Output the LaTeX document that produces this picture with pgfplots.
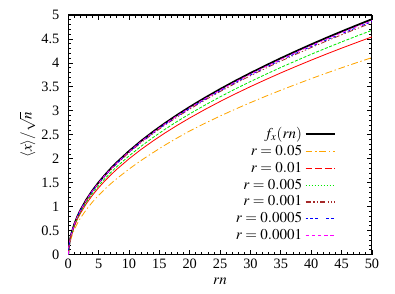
\documentclass[border=0pt]{standalone}
\usepackage{mathptmx}
\usepackage{fontspec}
\setmainfont{Liberation Serif}
\usepackage{pgfplots}
\usepackage{pgfplotstable}
\pgfplotsset{compat=1.18}
\definecolor{gorange}{RGB}{255,165,0}
\definecolor{gred}{RGB}{255,0,0}
\definecolor{ggreen}{RGB}{0,235,0}
\definecolor{gbrown}{RGB}{165,40,40}
\definecolor{gblue}{RGB}{0,0,255}
\definecolor{gmag}{RGB}{255,0,255}
\pgfplotstableread{
x     f      ro     rr     rg     rb     rbl    rm
0     0      0      0      0      0      0      0
0.1   0.157  0.128  0.145  0.150  0.155  0.155  0.156
0.25  0.286  0.233  0.265  0.273  0.282  0.283  0.284
0.5   0.432  0.353  0.400  0.412  0.426  0.428  0.429
1     0.638  0.521  0.590  0.608  0.628  0.632  0.634
1.5   0.796  0.650  0.736  0.759  0.784  0.788  0.791
2     0.930  0.760  0.860  0.886  0.916  0.921  0.924
3     1.153  0.943  1.067  1.099  1.136  1.141  1.146
4     1.342  1.099  1.241  1.279  1.322  1.329  1.334
5     1.508  1.237  1.395  1.437  1.485  1.493  1.499
6     1.658  1.363  1.534  1.580  1.633  1.641  1.648
7     1.797  1.479  1.662  1.713  1.770  1.779  1.786
8     1.925  1.586  1.781  1.835  1.896  1.906  1.913
10    2.160  1.784  1.998  2.058  2.128  2.138  2.147
12    2.373  1.965  2.195  2.261  2.337  2.349  2.359
14    2.568  2.131  2.375  2.447  2.529  2.542  2.553
16    2.750  2.291  2.544  2.621  2.709  2.723  2.734
18    2.921  2.439  2.702  2.784  2.877  2.892  2.903
20    3.082  2.580  2.851  2.937  3.036  3.051  3.064
22.5  3.273  2.740  3.028  3.119  3.224  3.240  3.253
25    3.454  2.891  3.195  3.292  3.402  3.419  3.433
27.5  3.626  3.035  3.354  3.456  3.572  3.590  3.604
30    3.790  3.172  3.506  3.612  3.733  3.752  3.767
32.5  3.947  3.304  3.651  3.761  3.888  3.908  3.923
35    4.099  3.431  3.792  3.906  4.038  4.058  4.074
37.5  4.245  3.553  3.927  4.045  4.181  4.203  4.220
40    4.387  3.672  4.058  4.181  4.321  4.343  4.361
42.5  4.524  3.787  4.185  4.311  4.456  4.479  4.497
45    4.657  3.898  4.308  4.438  4.587  4.610  4.629
47.5  4.786  4.006  4.427  4.561  4.714  4.738  4.757
50    4.912  4.111  4.544  4.681  4.838  4.863  4.883
}\datatable
\begin{document}
\begin{tikzpicture}
\begin{axis}[
  scale only axis,
  width=222.5pt, height=175.5pt,
  xmin=0, xmax=50, ymin=0, ymax=5,
  xtick={0,5,...,50},
  ytick={0,0.5,...,5},
  minor x tick num=4,
  minor y tick num=4,
  tick align=inside,
  major tick length=3.5pt,
  minor tick length=2pt,
  tick style={black, line width=0.6pt},
  axis line style={line width=0.8pt},
  /pgf/number format/assume math mode=true,
  ticklabel style={font=\fontsize{10.5}{12}\selectfont},
  yticklabel style={xshift=-3pt},
  label style={font=\fontsize{11}{13}\selectfont},
  xlabel={$rn$},
  ylabel={$\langle x\rangle/\sqrt{n}$},
  ylabel style={yshift=-2.5pt},
  legend plot pos=right,
  legend cell align=right,
  legend style={draw=none, fill=none, at={(0.895,0.555)}, anchor=north east,
    row sep=-0.6pt, font=\fontsize{11}{13}\selectfont},
  legend image code/.code={\draw[#1] plot coordinates {(0cm,0cm) (0.75cm,0cm)};},
  every axis plot/.append style={line join=round},
]
\addplot[black, line width=1.3pt] table[x=x,y=f] {\datatable};
\addlegendentry{$f_x(rn)$}
\addplot[gorange, line width=0.6pt, dash pattern=on 5pt off 2pt on 1pt off 2pt, legend image post style={line width=0.9pt}] table[x=x,y=ro] {\datatable};
\addlegendentry{$r=0.05$}
\addplot[gred, line width=0.6pt, solid, legend image post style={line width=0.9pt, dash pattern=on 5pt off 2pt}] table[x=x,y=rr] {\datatable};
\addlegendentry{$r=0.01$}
\addplot[ggreen, line width=0.6pt, dash pattern=on 2.2pt off 1.2pt, legend image post style={line width=0.9pt, dash pattern=on 1pt off 1.2pt}] table[x=x,y=rg] {\datatable};
\addlegendentry{$r=0.005$}
\addplot[gbrown, line width=0.6pt, dash pattern=on 4pt off 1.5pt on 1pt off 1.5pt on 1pt off 1.5pt, legend image post style={line width=0.9pt}] table[x=x,y=rb] {\datatable};
\addlegendentry{$r=0.001$}
\addplot[gblue, line width=0.6pt, dash pattern=on 2pt off 1.5pt on 2pt off 1.5pt on 2pt off 6pt, legend image post style={line width=0.9pt}] table[x=x,y=rbl] {\datatable};
\addlegendentry{$r=0.0005$}
\addplot[gmag, line width=0.6pt, dash pattern=on 2.5pt off 2pt, legend image post style={line width=0.9pt}] table[x=x,y=rm] {\datatable};
\addlegendentry{$r=0.0001$}
\end{axis}
\pgfresetboundingbox
\path ([shift={(-50pt,-28.6pt)}]current axis.south west) rectangle ([shift={(16.9pt,11pt)}]current axis.north east);
\end{tikzpicture}
\end{document}
